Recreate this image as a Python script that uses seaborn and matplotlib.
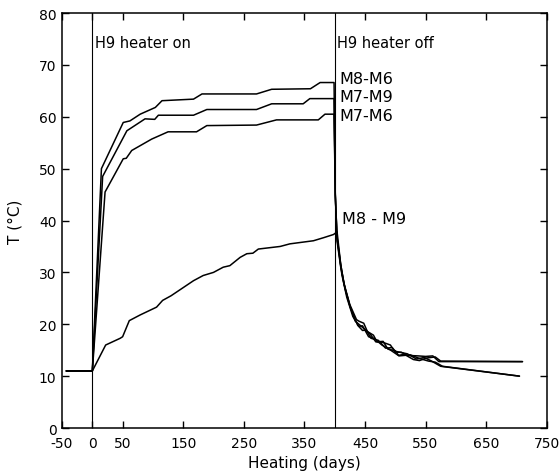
import numpy as np
import pandas as pd
import matplotlib
matplotlib.use("Agg")
import matplotlib.pyplot as plt
import seaborn as sns

# ---- data ----
m8m6_days = [-43, 0, 15, 51, 62, 79, 104, 115, 167, 181, 271, 296, 360, 376, 399,
             401, 404, 410, 415, 425, 436, 440, 448, 454, 464, 470, 480, 492, 500,
             510, 520, 538, 550, 562, 572, 710]
m8m6_temp = [11, 11, 50, 58.9, 59.2, 60.5, 61.8, 63.1, 63.4, 64.4, 64.4, 65.3, 65.4, 66.6, 66.6,
             45, 36.8, 31.5, 28, 23.8, 20.9, 20.6, 20.2, 18.6, 17.9, 16.6, 16.5, 16.0, 14.6,
             14.6, 14.0, 13.9, 13.8, 13.9, 12.8, 12.8]

m7m9_days = [-43, 0, 17, 57, 87, 103, 109, 167, 189, 271, 296, 348, 359, 399,
             401, 404, 412, 420, 430, 440, 446, 456, 466, 478, 490, 505, 515, 530,
             540, 552, 566, 575, 710]
m7m9_temp = [11, 11, 48.5, 57.3, 59.6, 59.5, 60.3, 60.3, 61.4, 61.4, 62.5, 62.5, 63.5, 63.5,
             45, 36.5, 29.5, 25.2, 21.5, 19.6, 19.7, 17.6, 17.2, 16.0, 15.2, 14.0, 14.2, 13.2,
             13.0, 13.5, 13.7, 12.9, 12.8]

m7m6_days = [-43, 0, 21, 51, 56, 65, 98, 125, 172, 189, 271, 304, 373, 384, 399,
             401, 404, 410, 418, 426, 438, 446, 452, 460, 472, 484, 495, 500, 520,
             535, 548, 560, 575, 705]
m7m6_temp = [11, 11, 45.5, 51.9, 52, 53.5, 55.7, 57.1, 57.1, 58.3, 58.4, 59.4, 59.4, 60.5, 60.5,
             45, 36, 31, 26.5, 23.2, 19.8, 18.8, 18.9, 17.3, 16.9, 15.4, 15.5, 14.8, 14.3,
             13.3, 13.6, 12.9, 11.9, 10.0]

m8m9_days = [-43, 0, 22, 46, 50, 61, 79, 106, 116, 130, 167, 183, 200, 216, 227, 244,
             255, 265, 274, 310, 326, 365, 382, 398, 404,
             410, 416, 425, 434, 442, 450, 458, 468, 480, 488, 500, 506, 525, 540, 555,
             566, 578, 705]
m8m9_temp = [11, 11, 16, 17.3, 17.6, 20.7, 21.8, 23.3, 24.6, 25.5, 28.4, 29.4, 30, 31, 31.3, 32.9,
             33.6, 33.7, 34.5, 35, 35.5, 36.1, 36.7, 37.3, 37.8,
             31.5, 27.5, 23.6, 20.6, 19.8, 19.0, 18.2, 16.6, 16.7, 15.2, 14.9, 13.9, 14.1, 13.4, 12.9,
             12.7, 11.9, 10.0]

series_names = ["M8-M6", "M7-M9", "M7-M6", "M8 - M9"]
x_ticks = [-50, 0, 50, 150, 250, 350, 450, 550, 650, 750]
y_ticks = [0, 10, 20, 30, 40, 50, 60, 70, 80]

frames = []
for name, d, t in zip(series_names,
                      [m8m6_days, m7m9_days, m7m6_days, m8m9_days],
                      [m8m6_temp, m7m9_temp, m7m6_temp, m8m9_temp]):
    frames.append(pd.DataFrame({"day": d, "T": t, "pair": name, "order": range(len(d))}))
df = pd.concat(frames, ignore_index=True)

# ---- figure ----
sns.set_style("ticks")
plt.rcParams["font.family"] = ["DejaVu Sans"]
plt.rcParams["text.color"] = "black"
plt.rcParams["axes.labelcolor"] = "black"
fig = plt.figure(figsize=(5.59, 4.77), dpi=100)
ax = fig.add_axes([0.111, 0.1006, 0.867, 0.870])

for name in series_names:
    sub = df[df["pair"] == name]
    sns.lineplot(data=sub, x="day", y="T", ax=ax, color="black", linewidth=1.1,
                 sort=False, estimator=None, legend=False)

ax.axvline(0, color="black", linewidth=0.8)
ax.axvline(400, color="black", linewidth=0.8)

ax.set_xlim(-50, 750)
ax.set_ylim(0, 80)
ax.set_xticks(x_ticks)
ax.set_xticklabels([str(v) for v in x_ticks])
ax.set_yticks(y_ticks)
ax.tick_params(direction="in", length=5, width=1, labelsize=10, top=True, right=True,
               colors="black", labelcolor="black")
ax.tick_params(axis="x", pad=6)
ax.tick_params(axis="y", pad=4)
for s in ax.spines.values():
    s.set_color("black")
    s.set_linewidth(1.1)

ax.set_xlabel("Heating (days)", fontsize=11, labelpad=3)
ax.set_ylabel("T\u0304 (°C)", fontsize=11, labelpad=12)

ax.text(4, 74.4, "H9 heater on", fontsize=10.5, va="center", ha="left")
ax.text(404, 74.4, "H9 heater off", fontsize=10.5, va="center", ha="left")
ax.text(408, 67.3, "M8-M6", fontsize=11.5, va="center", ha="left")
ax.text(408, 64.0, "M7-M9", fontsize=11.5, va="center", ha="left")
ax.text(408, 60.3, "M7-M6", fontsize=11.5, va="center", ha="left")
ax.text(412, 40.3, "M8 - M9", fontsize=11.5, va="center", ha="left")

fig.savefig("out.png", dpi=100)
